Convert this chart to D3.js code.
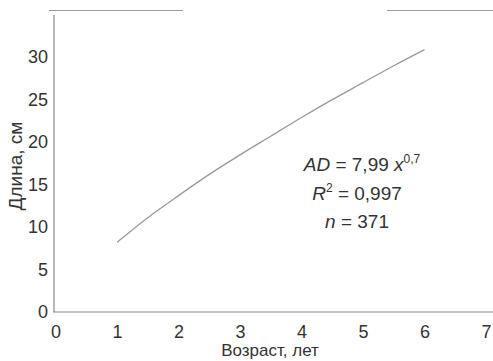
<!DOCTYPE html>
<html lang="ru">
<head>
  <meta charset="UTF-8">
  <title>Длина — возраст</title>
  <script src="https://d3js.org/d3.v7.min.js"></script>
  <style>
    body { margin: 0; padding: 0; background: #fff; font-family: "Liberation Sans", Arial, sans-serif; }
    svg { display: block; }
    .tick text { fill: #333; font-size: 18px; }
    .lbl { fill: #333; }
  </style>
</head>
<body>
  <svg width="493" height="361"></svg>
  <script>
    // age (years) and fitted length (cm)
    const ages = [1, 1.5, 2, 2.5, 3, 3.5, 4, 4.5, 5, 5.5, 6];
    const lengths = [8.2, 11.1, 13.7, 16.2, 18.5, 20.7, 22.9, 25.0, 27.0, 29.0, 30.9];
    const xTicks = [0, 1, 2, 3, 4, 5, 6, 7];
    const yTicks = [0, 5, 10, 15, 20, 25, 30];

    const svg = d3.select("svg");

    const x = d3.scaleLinear().domain([0, 7]).range([55.5, 486]);
    const y = d3.scaleLinear().domain([0, 35.5]).range([312, 10.5]);

    // top frame line (broken, as in the scan)
    svg.append("line").attr("x1", 49).attr("x2", 183).attr("y1", 10.5).attr("y2", 10.5)
      .attr("stroke", "#999").attr("stroke-width", 1.2);
    svg.append("line").attr("x1", 387).attr("x2", 493).attr("y1", 10.5).attr("y2", 10.5)
      .attr("stroke", "#999").attr("stroke-width", 1.2);

    // axis lines
    svg.append("line").attr("x1", 54).attr("x2", 54).attr("y1", 15).attr("y2", 312)
      .attr("stroke", "#888").attr("stroke-width", 1.2);
    svg.append("line").attr("x1", 53).attr("x2", 493).attr("y1", 312).attr("y2", 312)
      .attr("stroke", "#888").attr("stroke-width", 1.2);

    const xAxis = svg.append("g")
      .attr("transform", "translate(0,312)")
      .call(d3.axisBottom(x).tickValues(xTicks).tickFormat(d3.format("d")).tickSize(0).tickPadding(13));
    xAxis.select(".domain").remove();

    const yAxis = svg.append("g")
      .attr("transform", "translate(54,0)")
      .call(d3.axisLeft(y).tickValues(yTicks).tickFormat(d3.format("d")).tickSize(0).tickPadding(6));
    yAxis.select(".domain").remove();

    // curve
    const line = d3.line()
      .x((d, i) => x(ages[i]))
      .y(d => y(d))
      .curve(d3.curveMonotoneX);

    svg.append("path")
      .datum(lengths)
      .attr("d", line)
      .attr("fill", "none")
      .attr("stroke", "#999")
      .attr("stroke-width", 1.3);

    // axis titles
    svg.append("text").attr("class", "lbl")
      .attr("x", 270).attr("y", 356)
      .attr("text-anchor", "middle")
      .style("font-size", "17px")
      .text("Возраст, лет");

    svg.append("text").attr("class", "lbl")
      .attr("transform", "translate(22,166) rotate(-90)")
      .attr("text-anchor", "middle")
      .style("font-size", "19px")
      .text("Длина, см");

    // equation
    const eq = svg.append("g").style("font-size", "19px");

    const t1 = eq.append("text").attr("class", "lbl").attr("x", 362).attr("y", 171).attr("text-anchor", "middle");
    t1.append("tspan").style("font-style", "italic").text("AD");
    t1.append("tspan").text(" = 7,99 ");
    t1.append("tspan").style("font-style", "italic").text("x");
    t1.append("tspan").attr("dy", -8).style("font-size", "12px").text("0,7");

    const t2 = eq.append("text").attr("class", "lbl").attr("x", 357).attr("y", 200).attr("text-anchor", "middle");
    t2.append("tspan").style("font-style", "italic").text("R");
    t2.append("tspan").attr("dy", -8).style("font-size", "12px").text("2");
    t2.append("tspan").attr("dy", 8).text(" = 0,997");

    const t3 = eq.append("text").attr("class", "lbl").attr("x", 357).attr("y", 228).attr("text-anchor", "middle");
    t3.append("tspan").style("font-style", "italic").text("n");
    t3.append("tspan").text(" = 371");
  </script>
</body>
</html>
